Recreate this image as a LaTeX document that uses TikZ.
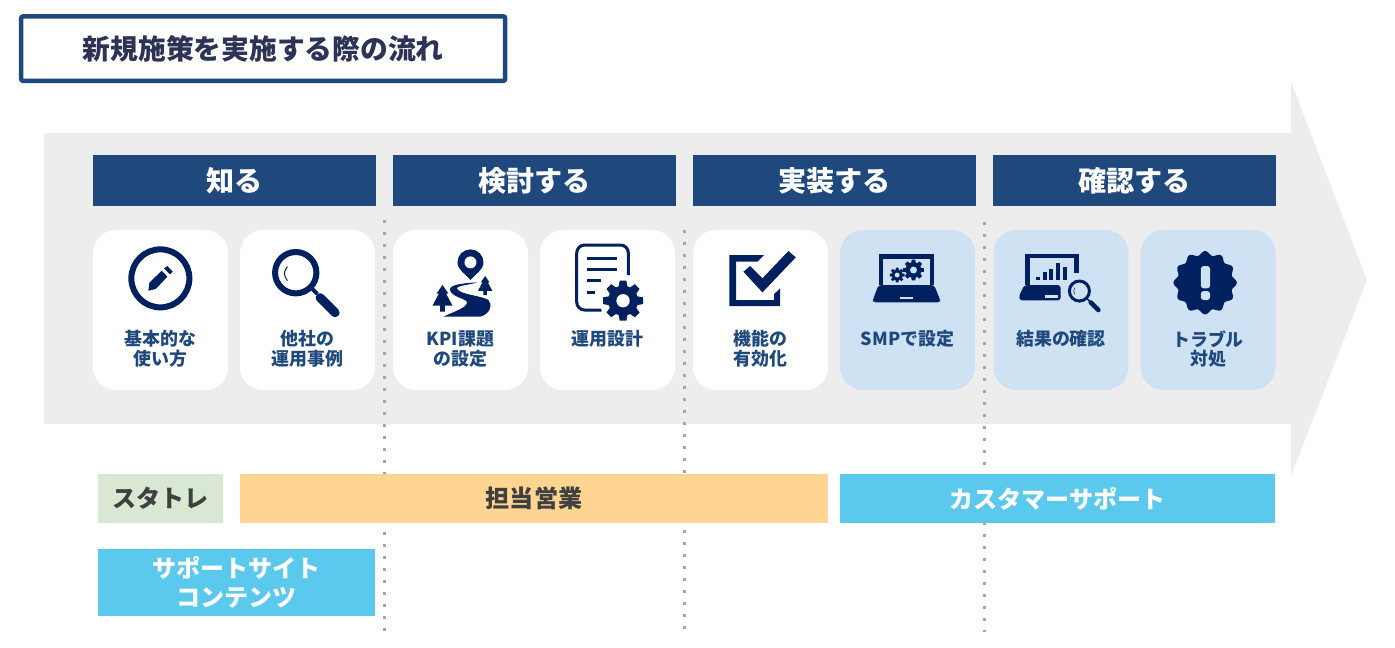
\documentclass[tikz,border=0pt]{standalone}
\usepackage{fontspec}
\setmainfont{Noto Sans CJK JP}
\usetikzlibrary{calc}
\definecolor{headBlue}{HTML}{1F497D}
\definecolor{titleText}{HTML}{2D3355}
\definecolor{iconNavy}{HTML}{002060}
\definecolor{arrowGray}{HTML}{EDEDED}
\definecolor{cardBlue}{HTML}{CFE2F3}
\definecolor{dotGray}{HTML}{A6A6A6}
\definecolor{barOrange}{HTML}{FFD591}
\definecolor{barSky}{HTML}{5BC8EE}
\definecolor{barGreen}{HTML}{D9E8D3}
\definecolor{barText}{HTML}{404040}
\tikzstyle{headBox} = [rectangle, fill=headBlue, text=white, minimum width=56.6mm, minimum height=10.2mm, inner sep=0pt, font=\bfseries\fontsize{16pt}{18pt}\selectfont]
\tikzstyle{whiteCard} = [rectangle, rounded corners=4.6mm, fill=white, minimum width=27mm, minimum height=32mm, inner sep=0pt]
\tikzstyle{blueCard} = [whiteCard, fill=cardBlue]
\tikzstyle{cardText} = [anchor=north, align=center, inner sep=0pt, yshift=-4mm, text=headBlue, font=\bfseries\fontsize{10.2pt}{11.3pt}\selectfont]
\tikzstyle{barBox} = [rectangle, minimum height=9.8mm, inner sep=0pt, align=center, font=\bfseries\fontsize{13.7pt}{16.5pt}\selectfont]
\tikzstyle{sepLine} = [line width=0.6mm, dotGray, dash pattern=on 0.6mm off 1.8mm]
\tikzstyle{iconFill} = [fill=iconNavy]
\tikzstyle{iconLine} = [draw=iconNavy]
\tikzstyle{iconsLeft} = [shift={(90,220)}, x=0.0667mm, y=-0.0667mm]
\tikzstyle{iconsMiddle} = [shift={(530,220)}, x=0.0667mm, y=-0.0667mm]
\tikzstyle{iconsRight} = [shift={(970,220)}, x=0.0667mm, y=-0.0667mm]
\newcommand{\gearIcon}[4]{%
  \foreach \a in {0,45,...,315} {\fill[iconFill, shift={(#1,#2)}, scale=#3, rotate=\a] (-14,38) -- (-10,60) -- (10,60) -- (14,38) -- cycle;}
  \fill[iconFill] (#1,#2) circle [radius=45*#3];
  \fill[#4] (#1,#2) circle [radius=20*#3];}
\newcommand{\treeIcon}[3]{%
  \fill[iconFill, shift={(#1,#2)}, scale=#3] (0,0) -- (18,26) -- (11,26) -- (30,62) -- (7,62) -- (7,80) -- (-7,80) -- (-7,62) -- (-30,62) -- (-11,26) -- (-18,26) -- cycle;}

\begin{document}
\begin{tikzpicture}[x=0.2mm, y=-0.2mm, node distance=25.9mm]
	\useasboundingbox (0,0) rectangle (1395,647);
	% title and big arrow
	\node (title) [rectangle, rounded corners=0.4mm, draw=headBlue, line width=0.9mm, fill=white, minimum width=96.8mm, minimum height=12.9mm, inner sep=0pt, text=titleText, font=\bfseries\fontsize{15.8pt}{18pt}\selectfont] at (263.2,48.6) {新規施策を実施する際の流れ};
	\fill [arrowGray] (44,133) -- (1291,133) -- (1291,82) -- (1367,280) -- (1291,476) -- (1291,424) -- (44,424) -- cycle;
	% dotted separators
	\coordinate (sepOneTop) at (384,220);
	\coordinate (sepOneEnd) at (384,632);
	\coordinate (sepTwoTop) at (684.5,230);
	\coordinate (sepTwoEnd) at (684.5,638);
	\coordinate (sepThreeTop) at (984,222);
	\coordinate (sepThreeEnd) at (984,632);
	\draw [sepLine] (sepOneTop) -- (sepOneEnd);
	\draw [sepLine] (sepTwoTop) -- (sepTwoEnd);
	\draw [sepLine] (sepThreeTop) -- (sepThreeEnd);
	% headers
	\node (know) [headBox] at (234.5,180.5) {知る};
	\node (study) [headBox, node distance=60mm, right of=know] {検討する};
	\node (build) [headBox, node distance=60mm, right of=study] {実装する};
	\node (check) [headBox, node distance=60mm, right of=build] {確認する};
	% cards
	\node (basic) [whiteCard, below of=know, xshift=-14.8mm] {};
	\node (cases) [whiteCard, below of=know, xshift=14.6mm] {};
	\node (kpi) [whiteCard, below of=study, xshift=-14.8mm] {};
	\node (ops) [whiteCard, below of=study, xshift=14.6mm] {};
	\node (enable) [whiteCard, below of=build, xshift=-14.8mm] {};
	\node (smp) [blueCard, below of=build, xshift=14.6mm] {};
	\node (result) [blueCard, below of=check, xshift=-14.7mm] {};
	\node (trouble) [blueCard, below of=check, xshift=14.7mm] {};
	\node (basicText) [cardText] at (basic.center) {基本的な\\使い方};
	\node (casesText) [cardText] at (cases.center) {他社の\\運用事例};
	\node (kpiText) [cardText] at (kpi.center) {KPI課題\\の設定};
	\node (opsText) [cardText] at (ops.center) {運用設計};
	\node (enableText) [cardText] at (enable.center) {機能の\\有効化};
	\node (smpText) [cardText] at (smp.center) {SMPで設定};
	\node (resultText) [cardText] at (result.center) {結果の確認};
	\node (troubleText) [cardText] at (trouble.center) {トラブル\\対処};
	% bars
	\node (startre) [barBox, fill=barGreen, text=barText, minimum width=25mm] at (160.5,498.5) {スタトレ};
	\node (sales) [barBox, fill=barOrange, text=barText, minimum width=117.6mm] at (534,498.5) {担当営業};
	\node (support) [barBox, fill=barSky, text=white, minimum width=87mm] at (1057.5,498.5) {カスタマーサポート};
	\node (site) [barBox, fill=barSky, text=white, minimum width=55.4mm, minimum height=13.4mm] at (236.5,582.5) {サポートサイト\\コンテンツ};
	% icons, first crop
	\begin{scope}[iconsLeft]
		\draw [iconLine, line width=1.2mm] (211,175) circle [radius=87];
		\fill [iconFill] (175,212) -- (178,188) -- (215,152) -- (232,170) -- (197,207) -- cycle;
		\fill [iconFill] (222,145) -- (232,138) -- (248,155) -- (240,163) -- cycle;
		\draw [iconLine, line width=1.2mm] (617,158) circle [radius=62];
		\draw [iconLine, line width=0.8mm] (665,205) -- (682,222);
		\draw [iconLine, line width=1.8mm, line cap=round] (690,233) -- (735,278);
		\draw [iconLine, line width=0.2mm] (592,140) .. controls (580,155) and (580,165) .. (592,182);
		\fill [iconFill] (1141,180) .. controls (1125,160) and (1102,150) .. (1102,127) arc [start angle=180, end angle=360, radius=39] .. controls (1180,150) and (1157,160) .. (1141,180) -- cycle;
		\fill [white] (1141,127) circle [radius=18];
		\fill [iconFill] (1160,187) .. controls (1110,190) and (1075,195) .. (1080,212) .. controls (1090,235) and (1135,235) .. (1130,250) .. controls (1125,265) and (1090,275) .. (1060,290) -- (1170,290) .. controls (1205,280) and (1205,250) .. (1195,240) .. controls (1170,225) and (1110,225) .. (1100,205) .. controls (1105,195) and (1140,195) .. (1160,187) -- cycle;
		\treeIcon{1057}{195}{1}
		\treeIcon{1185}{168}{0.72}
	\end{scope}
	% icons, second crop
	\begin{scope}[iconsMiddle]
		\draw [iconLine, line width=0.6mm, rounded corners=1.6mm] (215,270) -- (140,270) -- (140,75) -- (295,75) -- (295,165);
		\draw [iconLine, line width=0.5mm] (172,115) -- (262,115);
		\draw [iconLine, line width=0.5mm] (172,148) -- (262,148);
		\draw [iconLine, line width=0.5mm] (172,182) -- (212,182);
		\draw [iconLine, line width=0.5mm] (172,217) -- (195,217);
		\fill [white] (279,242) circle [radius=70];
		\gearIcon{279}{242}{1}{white}
		\fill [iconFill] (598,105) -- (702,105) -- (682,125) -- (618,125) -- (618,240) -- (732,240) -- (732,222) -- (750,205) -- (750,258) -- (598,258) -- cycle;
		\fill [iconFill] (640,155) -- (660,138) -- (697,175) -- (775,93) -- (797,112) -- (697,217) -- cycle;
		\draw [iconLine, line width=0.9mm] (1052,195) -- (1052,109) -- (1205,109) -- (1205,195);
		\fill [iconFill, rounded corners=0.6mm] (1045,195) -- (1212,195) -- (1230,240) -- (1230,247) -- (1028,247) -- (1028,240) -- cycle;
		\fill [cardBlue] (1110,230) rectangle (1148,238);
		\gearIcon{1101}{165}{0.37}{cardBlue}
		\gearIcon{1150}{150}{0.52}{cardBlue}
	\end{scope}
	% icons, third crop
	\begin{scope}[iconsRight]
		\draw [iconLine, line width=0.9mm] (172,195) -- (172,108) -- (319,108) -- (319,160);
		\fill [iconFill] (198,170) rectangle (211,180);
		\fill [iconFill] (218,155) rectangle (231,180);
		\fill [iconFill] (238,146) rectangle (250,180);
		\fill [iconFill] (257,128) rectangle (270,180);
		\fill [iconFill] (278,142) rectangle (290,180);
		\fill [iconFill, rounded corners=0.6mm] (163,195) -- (272,195) -- (272,241) -- (148,241) -- (148,225) -- cycle;
		\fill [cardBlue] (225,225) rectangle (265,235);
		\draw [iconLine, line width=0.6mm, fill=cardBlue] (328,213) circle [radius=30];
		\draw [iconLine, line width=0.3mm] (352,237) -- (362,247);
		\draw [iconLine, line width=0.9mm, line cap=round] (362,247) -- (385,270);
		\draw [iconLine, line width=0.1mm] (314,203) .. controls (310,210) and (310,216) .. (314,223);
		\fill [iconFill] plot [domain=0:360, samples=145] ({705+(89+6*cos(12*\x))*cos(\x)}, {188+(89+6*cos(12*\x))*sin(\x)}) -- cycle;
		\fill [cardBlue, rounded corners=0.6mm] (692,138) rectangle (720,205);
		\fill [cardBlue, rounded corners=0.6mm] (692,213) rectangle (720,240);
	\end{scope}
\end{tikzpicture}
\end{document}
